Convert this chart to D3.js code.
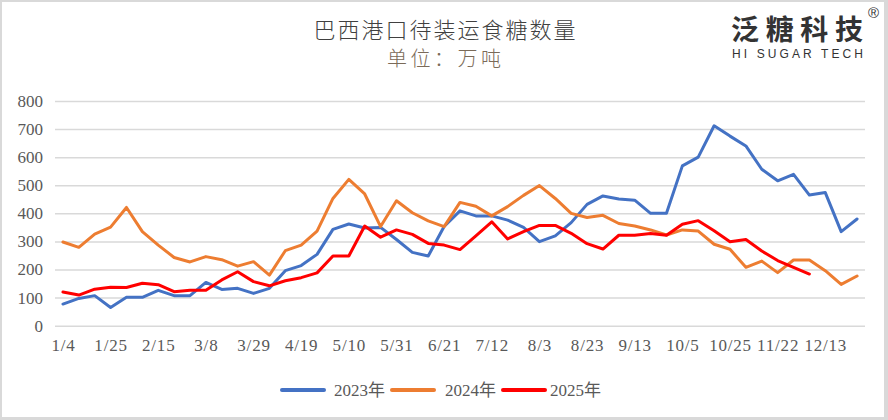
<!DOCTYPE html>
<html>
<head>
<meta charset="utf-8">
<script src="https://cdn.jsdelivr.net/npm/d3@7/dist/d3.min.js"></script>
<style>
  html, body { margin: 0; padding: 0; background: #d9d9d9; }
  svg { display: block; }
</style>
</head>
<body>
<svg id="chart" width="888" height="420"></svg>
<script>
const tickLabels = ["1/4","1/25","2/15","3/8","3/29","4/19","5/10","5/31","6/21","7/12","8/3","8/23","9/13","10/5","10/25","11/22","12/13"];
const yTicks = [0,100,200,300,400,500,600,700,800];
const seriesNames = ["2023年","2024年","2025年"];
const seriesColors = ["#4472C4","#ED7D31","#FF0000"];

const s2023 = [77,97,107,65,101,101,126,107,107,154,129,133,115,133,196,214,254,343,362,348,350,307,261,248,353,409,391,391,376,350,299,320,367,432,462,451,447,400,400,569,600,712,675,640,557,516,539,465,474,335,380];
const s2024 = [298,279,326,351,421,335,287,243,227,246,235,212,228,180,267,287,337,453,521,469,353,445,402,373,353,439,425,391,424,464,499,453,400,385,393,364,355,341,323,341,337,290,272,208,230,189,234,234,196,147,177];
const s2025 = [120,109,130,137,136,151,146,121,126,126,163,192,157,142,160,171,188,248,248,355,315,341,325,293,287,271,320,370,309,335,357,357,329,292,273,322,322,328,322,361,374,338,299,307,266,232,208,184];

const series = [s2023, s2024, s2025];
const nCats = s2023.length;

const svg = d3.select("#chart");
svg.append("rect").attr("x",2).attr("y",2).attr("width",882).attr("height",415).attr("fill","#fff");

const plotL = 55, plotR = 865, plotT = 101, plotB = 325.7;
const band = (plotR - plotL) / nCats;
const x = d3.scalePoint().domain(d3.range(nCats)).range([plotL + band/2, plotR - band/2]);
const y = d3.scaleLinear().domain([0,800]).range([plotB, plotT]);

// Y axis with gridlines
const yAxis = d3.axisLeft(y).tickValues(yTicks).tickSize(-(plotR-plotL)).tickPadding(12);
const gy = svg.append("g").attr("transform",`translate(${plotL},0)`).call(yAxis);
gy.select(".domain").remove();
gy.selectAll(".tick line").attr("stroke","#d9d9d9").attr("stroke-width",1.5);
gy.selectAll(".tick text").attr("fill","#595959").attr("font-family","'Liberation Serif', 'DejaVu Serif', serif").attr("font-size",17);

// X axis
const xTickVals = tickLabels.map((d,i)=>i*3);
const xAxis = d3.axisBottom(x).tickValues(xTickVals).tickFormat((d)=>tickLabels[d/3]).tickSize(0).tickPadding(13);
const gx = svg.append("g").attr("transform",`translate(0,${plotB})`).call(xAxis);
gx.select(".domain").remove();
gx.selectAll(".tick text").attr("fill","#595959").attr("font-family","'Liberation Serif', 'DejaVu Serif', serif")
  .attr("font-size",17).attr("letter-spacing","0.8px");

// Lines
const line = d3.line().x((d,i)=>x(i)).y(d=>y(d));
series.forEach((s,k)=>{
  svg.append("path").datum(s).attr("d",line).attr("fill","none")
    .attr("stroke",seriesColors[k]).attr("stroke-width",3)
    .attr("stroke-linejoin","round").attr("stroke-linecap","round");
});

// Title & subtitle
svg.append("text").attr("x",444.5).attr("y",38).attr("text-anchor","middle")
  .attr("font-family","'Noto Sans CJK SC', sans-serif").attr("font-weight",300).attr("font-size",22)
  .attr("fill","#404040").attr("textLength",262).attr("lengthAdjust","spacing")
  .text("巴西港口待装运食糖数量");
svg.append("text").attr("x",444).attr("y",66).attr("text-anchor","middle")
  .attr("font-family","'Noto Sans CJK SC', sans-serif").attr("font-weight",300).attr("font-size",20)
  .attr("fill","#7a6a58").attr("textLength",114).attr("lengthAdjust","spacing")
  .text("单位：万吨");

// Logo
svg.append("text").attr("x",731).attr("y",40)
  .attr("font-family","'Noto Sans CJK SC', sans-serif").attr("font-weight",700).attr("font-size",28)
  .attr("fill","#333").attr("textLength",132).attr("lengthAdjust","spacing")
  .text("泛糖科技");
svg.append("text").attr("x",868).attr("y",18)
  .attr("font-family","'Liberation Sans', Arial, sans-serif").attr("font-size",15)
  .attr("fill","#333").text("®");
svg.append("text").attr("x",732).attr("y",58)
  .attr("font-family","'Liberation Sans', Arial, sans-serif").attr("font-size",12)
  .attr("fill","#333").attr("textLength",131).attr("lengthAdjust","spacing")
  .text("HI SUGAR TECH");

// Legend
const legendPos = [[282,334],[392,445],[503,550]];
seriesNames.forEach((n,k)=>{
  const [lx,tx] = legendPos[k];
  svg.append("line").attr("x1",lx).attr("x2",lx+42).attr("y1",390).attr("y2",390)
    .attr("stroke",seriesColors[k]).attr("stroke-width",4).attr("stroke-linecap","round");
  svg.append("text").attr("x",tx).attr("y",396)
    .attr("font-family","'Liberation Serif', 'Noto Sans CJK SC', serif").attr("font-size",17)
    .attr("fill","#595959").text(n);
});
</script>
</body>
</html>
